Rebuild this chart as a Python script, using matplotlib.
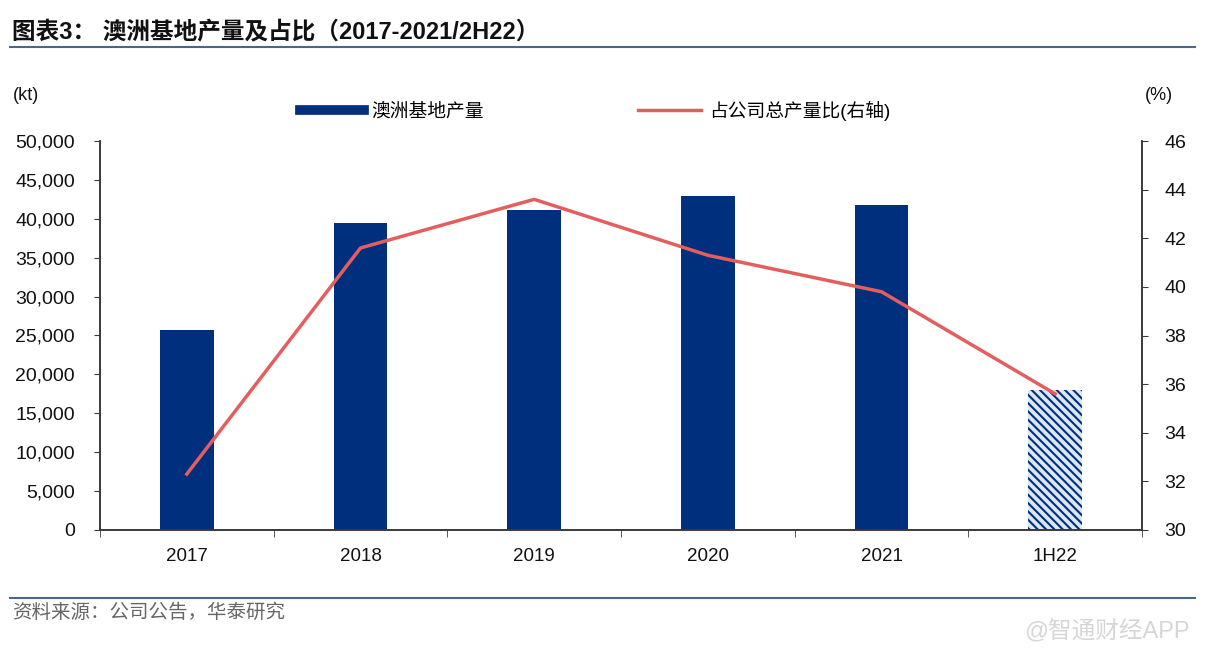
import numpy as np
import matplotlib
matplotlib.use('Agg')
import matplotlib.pyplot as plt
from matplotlib.lines import Line2D

plt.rcParams['font.family'] = ['Liberation Sans', 'Noto Sans CJK SC', 'DejaVu Sans']
plt.rcParams['hatch.linewidth'] = 1.5

################## data ##################
categories = ['2017', '2018', '2019', '2020', '2021', '1H22']
output_kt = [25700, 39500, 41100, 42900, 41800, 18000]
share_pct = [32.3, 41.6, 43.6, 41.3, 39.8, 35.6]
left_ticks = [0, 5000, 10000, 15000, 20000, 25000, 30000, 35000, 40000, 45000, 50000]
right_ticks = [30, 32, 34, 36, 38, 40, 42, 44, 46]

navy = '#002F7D'
red = '#E35F5F'
spine_c = '#3a3a3a'

fig = plt.figure(figsize=(12.08, 6.70), dpi=100)
ax = fig.add_axes([100/1208, 1-530/670, 1042/1208, 389/670])

x = np.arange(len(categories))
bars = ax.bar(x, output_kt, width=0.31, color=navy, zorder=2)
# last bar (1H22) is hatched
bars[-1].set_facecolor('#dce7f6')
bars[-1].set_edgecolor(navy)
bars[-1].set_linewidth(0)
bars[-1].set_hatch('\\\\\\\\')

ax.set_xlim(-0.5, len(categories) - 0.5)
ax.set_ylim(0, 50000)
ax.set_yticks(left_ticks)
ax.set_yticklabels(['{:,}'.format(v) for v in left_ticks], fontsize=14, color='#111111')
ax.set_xticks(x)
ax.set_xticklabels(categories, fontsize=13.5, color='#111111')
ax.set_xticks(np.arange(-0.5, len(categories)), minor=True)
ax.tick_params(axis='x', which='major', length=0, pad=13)
ax.tick_params(axis='x', which='minor', length=5, direction='out', color=spine_c)
ax.tick_params(axis='y', length=4, direction='out', color=spine_c, pad=14)
ax.spines['top'].set_visible(False)
for s in ['left', 'bottom', 'right']:
    ax.spines[s].set_color(spine_c)
    ax.spines[s].set_linewidth(1.2)

ax2 = ax.twinx()
ax2.plot(x, share_pct, color=red, linewidth=2.5, zorder=3)
ax2.set_ylim(30, 46)
ax2.set_yticks(right_ticks)
ax2.set_yticklabels([str(v) for v in right_ticks], fontsize=14, color='#111111')
ax2.tick_params(axis='y', length=4, direction='out', color=spine_c, pad=12)
ax2.spines['top'].set_visible(False)
for s in ['left', 'bottom', 'right']:
    ax2.spines[s].set_color(spine_c)
    ax2.spines[s].set_linewidth(1.2)

# units
fig.text(13/1208, 1-95/670, '(kt)', fontsize=13, va='center', ha='left', color='#111111')
fig.text(1145/1208, 1-95/670, '(%)', fontsize=13, va='center', ha='left', color='#111111')

# legend
handles = [Line2D([], [], color=navy, linewidth=7),
           Line2D([], [], color=red, linewidth=2.5)]
labels = ['澳洲基地产量', '占公司总产量比(右轴)']
fig.legend(handles, labels, loc='center left', bbox_to_anchor=(300/1208, 1-111/670),
           ncol=2, frameon=False, fontsize=13.5, handlelength=3.4, handletextpad=0.4,
           columnspacing=8.2, borderpad=0, borderaxespad=0)

# title and rules
fig.text(12/1208, 1-33/670, '图表3： 澳洲基地产量及占比（2017-2021/2H22）',
         fontsize=17, fontweight='bold', va='center', ha='left', color='#111111')
fig.add_artist(Line2D([10/1208, 1195/1208], [1-47/670, 1-47/670], color='#4a6785', linewidth=1.5))
fig.add_artist(Line2D([10/1208, 1195/1208], [1-598/670, 1-598/670], color='#4a6785', linewidth=1.5))

fig.text(12/1208, 1-613/670, '资料来源：公司公告，华泰研究', fontsize=14, va='center', ha='left',
         color='#666666')
fig.text(1190/1208, 1-632/670, '@智通财经APP', fontsize=17, va='center', ha='right',
         color='#d6d6d6')

fig.savefig('out.png', dpi=100)
